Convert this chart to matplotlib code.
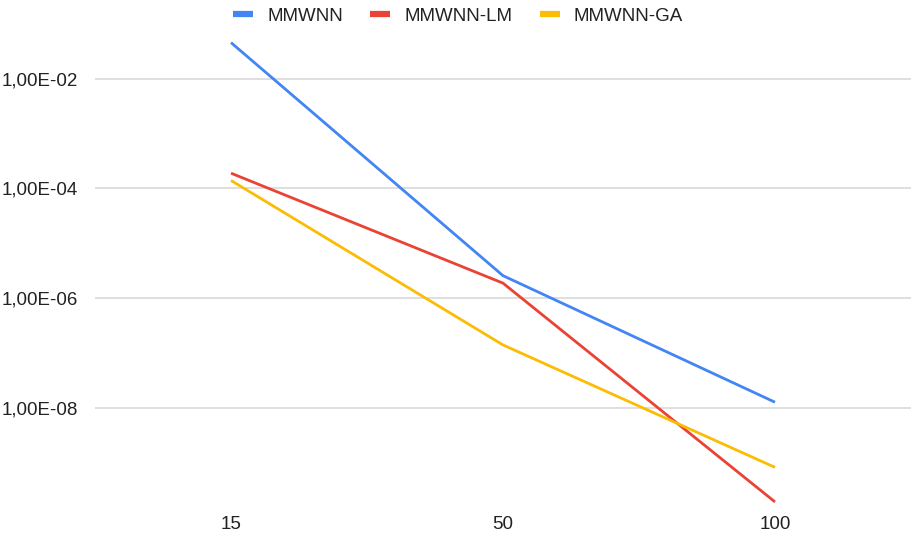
import matplotlib
matplotlib.use("Agg")
import matplotlib.pyplot as plt
from matplotlib.lines import Line2D
from matplotlib.ticker import FuncFormatter

plt.rcParams['font.family'] = ['Liberation Sans', 'DejaVu Sans']

# data
categories = ['15', '50', '100']
mmwnn = [4.5e-2, 2.6e-6, 1.3e-8]
mmwnn_lm = [1.9e-4, 1.9e-6, 2.0e-10]
mmwnn_ga = [1.4e-4, 1.43e-7, 8.5e-10]
series_names = ['MMWNN', 'MMWNN-LM', 'MMWNN-GA']
colors = ['#4285F4', '#EA4335', '#FBBC04']

W, H = 911, 535
fig = plt.figure(figsize=(W / 100, H / 100), dpi=100)
ax = fig.add_axes([95 / W, (H - 505) / H, 1 - 95 / W, (505 - 30) / H])

x = list(range(len(categories)))
for vals, c in zip([mmwnn, mmwnn_lm, mmwnn_ga], colors):
    ax.plot(x, vals, color=c, lw=2.0, clip_on=False, solid_capstyle='butt', zorder=3)

ax.set_yscale('log')
ax.set_ylim(10 ** -9.755, 10 ** -1.118)
ax.set_xlim(-0.5, 2.5)
ax.set_yticks([1e-2, 1e-4, 1e-6, 1e-8])
ax.yaxis.set_minor_locator(plt.NullLocator())


def fmt(v, pos):
    s = '%.2E' % v
    return s.replace('.', ',')


ax.yaxis.set_major_formatter(FuncFormatter(fmt))
ax.set_xticks(x)
ax.set_xticklabels(categories)
ax.tick_params(axis='both', length=0, labelsize=13.5, colors='#222222')
ax.tick_params(axis='y', pad=12)
ax.tick_params(axis='x', pad=8)
ax.grid(axis='y', color='#d9d9d9', lw=1.2)
ax.set_axisbelow(True)
for sp in ax.spines.values():
    sp.set_visible(False)

handles = [Line2D([0], [0], color=c, lw=4.5, solid_capstyle='butt') for c in colors]
fig.legend(handles, series_names, loc='center', bbox_to_anchor=(0.503, 1 - 16 / H),
           ncol=3, frameon=False, fontsize=13.5, handlelength=1.07,
           handletextpad=0.75, columnspacing=1.45, labelcolor='#222222')

fig.savefig('out.png', dpi=100)
